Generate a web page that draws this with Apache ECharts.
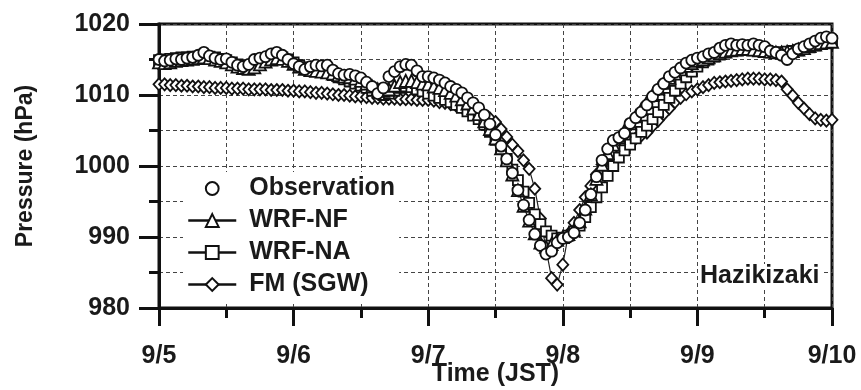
<!DOCTYPE html>
<html>
<head>
<meta charset="utf-8">
<script src="https://cdn.jsdelivr.net/npm/echarts@6/dist/echarts.min.js"></script>
<style>html,body{margin:0;padding:0;background:#fff;}#chart{width:861px;height:390px;}</style>
</head>
<body>
<div id="chart"></div>
<script>
// Tick labels for the time axis (one per day, 24 h apart)
const dayLabels = ['9/5', '9/6', '9/7', '9/8', '9/9', '9/10'];
const pressureTicks = [980, 990, 1000, 1010, 1020];
const seriesNames = ['Observation', 'WRF-NF', 'WRF-NA', 'FM (SGW)'];

// Hourly sea-level pressure (hPa), 9/5 00 JST .. 9/10 00 JST (121 values)
const observation = [
  1015.0,1014.8,1014.9,1015.1,1015.0,1015.2,1015.3,1015.6,1016.0,1015.5,1015.2,1015.0,
  1015.1,1014.6,1014.2,1014.0,1014.3,1015.0,1015.2,1015.4,1015.8,1016.0,1015.6,1015.0,
  1014.4,1014.0,1013.6,1014.0,1014.2,1014.1,1014.2,1013.5,1013.0,1012.8,1012.9,1012.7,
  1012.4,1011.8,1011.2,1010.2,1011.0,1012.6,1013.3,1014.0,1014.3,1014.2,1013.4,1012.6,
  1012.6,1012.4,1012.1,1011.7,1011.2,1010.8,1010.3,1009.6,1008.9,1008.2,1007.2,1005.9,
  1004.4,1002.8,1001.0,999.0,996.6,994.5,992.4,990.4,988.8,987.6,988.0,989.2,
  989.8,990.0,990.6,992.0,993.8,996.0,998.5,1000.8,1002.4,1003.6,1004.0,1004.6,
  1006.0,1006.8,1007.6,1008.6,1009.8,1010.8,1011.6,1012.6,1013.2,1013.8,1014.5,1014.9,
  1015.2,1015.4,1015.8,1016.0,1016.6,1017.0,1017.2,1017.0,1017.1,1017.0,1017.2,1017.0,
  1016.8,1016.2,1016.0,1015.6,1015.0,1015.8,1016.5,1016.8,1017.2,1017.6,1018.0,1018.2,
  1018.0
];
const wrfNF = [
  1014.6,1014.5,1014.6,1014.8,1014.9,1015.0,1015.1,1015.2,1015.3,1015.2,1015.0,1014.8,
  1014.6,1014.3,1014.0,1013.8,1013.7,1013.9,1014.3,1014.7,1015.0,1015.2,1015.1,1014.8,
  1014.4,1014.0,1013.7,1013.5,1013.4,1013.3,1013.2,1013.0,1012.8,1012.6,1012.5,1012.3,
  1012.0,1011.6,1011.2,1010.8,1010.6,1010.8,1011.3,1011.8,1012.0,1012.0,1011.8,1011.6,
  1011.5,1011.2,1011.0,1010.7,1010.3,1009.9,1009.4,1008.8,1008.1,1007.3,1006.3,1005.2,
  1003.9,1002.5,1000.8,998.8,996.6,994.4,992.3,990.5,989.2,988.6,989.0,989.6,
  990.0,990.4,991.0,992.2,994.0,996.0,998.2,1000.2,1001.8,1003.0,1004.0,1005.0,
  1006.0,1007.0,1008.0,1009.0,1010.0,1010.9,1011.7,1012.4,1013.0,1013.6,1014.1,1014.5,
  1014.8,1015.0,1015.3,1015.6,1015.9,1016.1,1016.3,1016.4,1016.5,1016.5,1016.4,1016.3,
  1016.2,1016.1,1016.0,1016.0,1016.1,1016.2,1016.4,1016.6,1016.9,1017.1,1017.3,1017.4,
  1017.5
];
const wrfNA = [
  1014.9,1015.0,1015.1,1015.2,1015.3,1015.3,1015.4,1015.4,1015.5,1015.4,1015.3,1015.1,
  1014.9,1014.6,1014.3,1014.1,1014.0,1014.2,1014.6,1015.0,1015.3,1015.4,1015.3,1015.0,
  1014.6,1014.2,1013.9,1013.6,1013.5,1013.3,1013.1,1012.8,1012.5,1012.2,1011.9,1011.6,
  1011.3,1011.0,1010.6,1010.3,1010.0,1010.2,1010.6,1011.0,1011.2,1011.1,1010.8,1010.5,
  1010.2,1009.9,1009.6,1009.3,1009.0,1008.6,1008.2,1007.7,1007.1,1006.6,1005.8,1004.8,
  1003.7,1002.4,1001.0,999.5,998.0,996.4,994.8,993.2,991.8,990.8,990.2,989.8,
  989.9,990.2,990.8,991.6,992.8,994.2,995.6,997.0,998.6,1000.0,1001.2,1002.2,
  1003.0,1003.9,1004.8,1005.7,1006.6,1007.6,1008.6,1009.6,1010.6,1011.6,1012.5,1013.3,
  1014.0,1014.6,1015.0,1015.4,1015.7,1016.0,1016.2,1016.3,1016.4,1016.4,1016.3,1016.2,
  1016.1,1016.0,1016.0,1016.0,1016.1,1016.2,1016.3,1016.5,1016.7,1017.0,1017.2,1017.4,
  1017.6
];
const fmSGW = [
  1011.5,1011.5,1011.4,1011.4,1011.3,1011.3,1011.2,1011.2,1011.1,1011.1,1011.0,1011.0,
  1011.0,1010.9,1010.9,1010.9,1010.8,1010.8,1010.8,1010.8,1010.7,1010.7,1010.7,1010.6,
  1010.6,1010.5,1010.5,1010.4,1010.3,1010.3,1010.2,1010.1,1010.0,1010.0,1009.9,1009.8,
  1009.8,1009.7,1009.6,1009.6,1009.5,1009.5,1009.5,1009.4,1009.4,1009.4,1009.3,1009.3,
  1009.3,1009.2,1009.0,1008.9,1008.7,1008.5,1008.3,1008.0,1007.8,1007.5,1007.1,1006.7,
  1006.2,1005.2,1004.1,1003.0,1002.1,1000.8,999.6,996.8,992.6,988.4,984.2,983.3,
  986.1,990.4,992.0,993.8,995.6,997.2,998.8,1000.2,1001.2,1002.0,1002.5,1002.9,
  1003.5,1003.9,1004.3,1004.7,1005.6,1006.4,1007.3,1008.1,1009.0,1009.6,1010.1,1010.5,
  1010.8,1011.1,1011.4,1011.7,1011.8,1011.9,1012.0,1012.1,1012.2,1012.3,1012.3,1012.3,
  1012.2,1012.2,1012.1,1011.9,1010.8,1009.9,1008.9,1008.1,1007.3,1006.7,1006.5,1006.4,
  1006.5
];

const FONT = "'Liberation Sans', Arial, Helvetica, sans-serif";
const INK = '#1a1a1a';
const toPairs = arr => arr.map((v, i) => [i, v]);

function mkSeries(name, data, symbol, size, withLine) {
  return {
    name: name,
    type: 'line',
    data: toPairs(data),
    symbol: symbol,
    symbolSize: size,
    showSymbol: true,
    showAllSymbol: true,
    itemStyle: { color: '#ffffff', borderColor: '#111', borderWidth: 1.8 },
    lineStyle: withLine ? { color: '#222', width: 1.2 } : { width: 0, opacity: 0 },
    emphasis: { disabled: true },
    z: 3
  };
}

const chart = echarts.init(document.getElementById('chart'), null, { renderer: 'canvas' });
const option = {
  animation: false,
  backgroundColor: '#ffffff',
  grid: {
    left: 159, right: 29, top: 24, bottom: 82, show: true,
    outerBoundsMode: 'none', containLabel: false,
    borderColor: '#111', borderWidth: 3, backgroundColor: 'transparent'
  },
  title: {
    text: 'Hazikizaki', left: 698, top: 264, padding: [0, 2, 0, 2],
    backgroundColor: '#ffffff',
    textStyle: { fontFamily: FONT, fontSize: 25, fontWeight: 'bold', color: INK }
  },
  legend: {
    orient: 'vertical', left: 183, top: 172, padding: [4, 4, 4, 4],
    backgroundColor: '#ffffff',
    itemWidth: 48, itemHeight: 16, itemGap: 7,
    textStyle: { fontFamily: FONT, fontSize: 25, fontWeight: 'bold', color: INK, padding: [0, 0, 0, 8] },
    data: [
      { name: seriesNames[0], lineStyle: { width: 0, opacity: 0 } },
      { name: seriesNames[1], lineStyle: { width: 2.5, color: '#111' } },
      { name: seriesNames[2], lineStyle: { width: 2.5, color: '#111' } },
      { name: seriesNames[3], lineStyle: { width: 2.5, color: '#111' } }
    ],
    selectedMode: false
  },
  xAxis: {
    type: 'value', min: 0, max: 120, interval: 24,
    name: 'Time (JST)', nameLocation: 'middle', nameGap: 54, nameMoveOverlap: false,
    nameTextStyle: { fontFamily: FONT, fontSize: 25, fontWeight: 'bold', color: INK },
    axisLine: { lineStyle: { color: '#111', width: 3 } },
    axisTick: { length: 18, lineStyle: { color: '#111', width: 3 } },
    minorTick: { show: true, splitNumber: 2, length: 10, lineStyle: { color: '#111', width: 3 } },
    splitLine: { show: true, lineStyle: { type: [4, 3], color: '#444', width: 1 } },
    minorSplitLine: { show: true, lineStyle: { type: [4, 3], color: '#444', width: 1 } },
    axisLabel: {
      margin: 36, fontFamily: FONT, fontSize: 25, fontWeight: 'bold', color: INK,
      formatter: v => (v % 24 === 0 ? dayLabels[v / 24] : '')
    }
  },
  yAxis: {
    type: 'value', min: pressureTicks[0], max: pressureTicks[pressureTicks.length - 1], interval: 10,
    name: 'Pressure (hPa)', nameLocation: 'middle', nameGap: 122, nameRotate: 90, nameMoveOverlap: false,
    nameTextStyle: { fontFamily: FONT, fontSize: 23, fontWeight: 'bold', color: INK },
    axisLine: { show: true, lineStyle: { color: '#111', width: 3 } },
    axisTick: { show: true, length: 20, lineStyle: { color: '#111', width: 3 } },
    minorTick: { show: true, splitNumber: 2, length: 10, lineStyle: { color: '#111', width: 3 } },
    splitLine: { show: true, lineStyle: { type: [4, 3], color: '#444', width: 1 } },
    minorSplitLine: { show: true, lineStyle: { type: [4, 3], color: '#444', width: 1 } },
    axisLabel: {
      margin: 29, fontFamily: FONT, fontSize: 25, fontWeight: 'bold', color: INK,
      formatter: v => (pressureTicks.indexOf(v) >= 0 ? String(v) : '')
    }
  },
  series: [
    mkSeries(seriesNames[3], fmSGW, 'diamond', [11, 12], true),
    mkSeries(seriesNames[2], wrfNA, 'rect', 10, true),
    mkSeries(seriesNames[1], wrfNF, 'triangle', 12, true),
    mkSeries(seriesNames[0], observation, 'circle', 11, false)
  ]
};
chart.setOption(option);
</script>
</body>
</html>
